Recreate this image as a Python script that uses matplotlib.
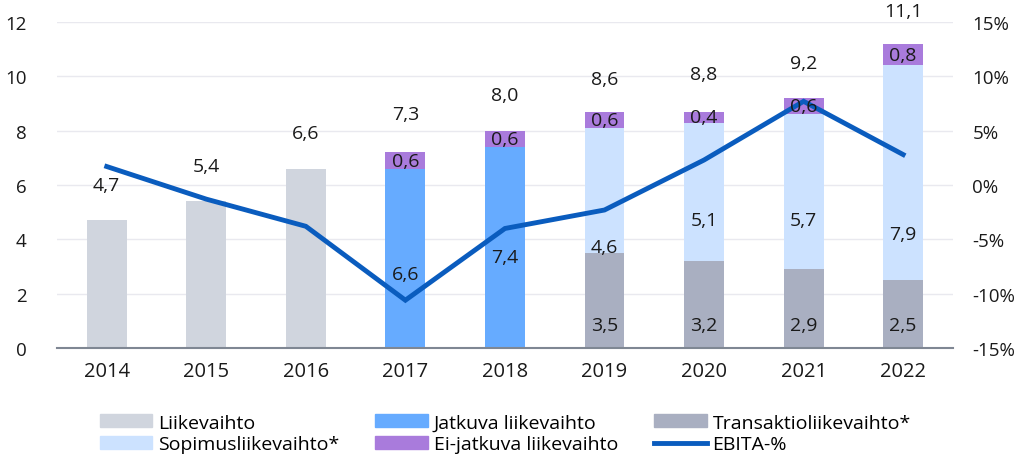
import numpy as np
import matplotlib.pyplot as plt
from matplotlib.patches import Patch
from matplotlib.lines import Line2D

plt.rcParams['font.family'] = ['Open Sans', 'DejaVu Sans']

years = ['2014', '2015', '2016', '2017', '2018', '2019', '2020', '2021', '2022']
liikevaihto = [4.7, 5.4, 6.6, 0, 0, 0, 0, 0, 0]
jatkuva = [0, 0, 0, 6.6, 7.4, 0, 0, 0, 0]
transaktio = [0, 0, 0, 0, 0, 3.5, 3.2, 2.9, 2.5]
sopimus = [0, 0, 0, 0, 0, 4.6, 5.1, 5.7, 7.9]
ei_jatkuva = [0, 0, 0, 0.6, 0.6, 0.6, 0.4, 0.6, 0.8]
totals = [4.7, 5.4, 6.6, 7.3, 8.0, 8.6, 8.8, 9.2, 11.1]
ebita = [1.7, -1.3, -3.8, -10.6, -4.0, -2.3, 2.3, 7.7, 2.8]

c_liik = '#D0D5DE'
c_jatk = '#66ABFF'
c_trans = '#A9AFC1'
c_sop = '#CCE2FF'
c_ei = '#A97BDC'
c_line = '#0A5CBE'

def fmt(v):
    return f'{v:.1f}'.replace('.', ',')

x = np.arange(len(years))
w = 0.4
fig = plt.figure(figsize=(10.17, 4.56), dpi=100)
ax = fig.add_axes([0.056, 0.2346, 0.881, 0.715])

base = np.zeros(len(years))
for vals, col in [(liikevaihto, c_liik), (jatkuva, c_jatk), (transaktio, c_trans),
                  (sopimus, c_sop), (ei_jatkuva, c_ei)]:
    v = np.array(vals)
    ax.bar(x, v, w, bottom=base, color=col, zorder=2)
    base = base + v

ax.set_xlim(-0.5, 8.5)
ax.set_ylim(0, 12)
ax.set_yticks(range(0, 13, 2))
ax.set_xticks(x)
ax.set_xticklabels(years)
ax.grid(axis='y', color='#E9E9EF', lw=1, zorder=0)
for s in ['top', 'right', 'left']:
    ax.spines[s].set_visible(False)
ax.spines['bottom'].set_color('#7F8793')
ax.spines['bottom'].set_linewidth(1.5)
ax.spines['bottom'].set_zorder(3)
ax.tick_params(length=0, labelsize=13.5, colors='#1a1a1a')
ax.tick_params(axis='x', pad=9, labelsize=14.5)
ax.tick_params(axis='y', pad=22)

ax2 = ax.twinx()
ax2.plot(x, ebita, color=c_line, lw=3.5, zorder=4, solid_joinstyle='miter')
ax2.set_ylim(-15, 15)
ax2.set_yticks(range(-15, 16, 5))
ax2.set_yticklabels([f'{t}%' for t in range(-15, 16, 5)])
ax2.tick_params(length=0, labelsize=13.5, pad=14, colors='#1a1a1a')
for s in ax2.spines.values():
    s.set_visible(False)

tr = ax.transData
kw = dict(ha='center', va='center', fontsize=14, color='#1a1a1a', zorder=6)
jatk_y = [None, None, None, 2.72, 3.35, None, None, None, None]
sop_y = [None, None, None, None, None, 3.72, 4.71, 4.71, 4.2]
for i in range(len(years)):
    ax2.text(x[i], totals[i] + 1.3, fmt(totals[i]), transform=tr, **kw)
    if jatkuva[i]:
        ax2.text(x[i], jatk_y[i], fmt(jatkuva[i]), transform=tr, **kw)
    if transaktio[i]:
        ax2.text(x[i], 0.85, fmt(transaktio[i]), transform=tr, **kw)
    if sopimus[i]:
        ax2.text(x[i], sop_y[i], fmt(sopimus[i]), transform=tr, **kw)
    if ei_jatkuva[i]:
        b = liikevaihto[i] + jatkuva[i] + transaktio[i] + sopimus[i]
        ax2.text(x[i], b + ei_jatkuva[i] / 2, fmt(ei_jatkuva[i]), transform=tr, **kw)

handles = [Patch(color=c_liik), Patch(color=c_sop), Patch(color=c_jatk),
           Patch(color=c_ei), Patch(color=c_trans), Line2D([], [], color=c_line, lw=3.5)]
labels = ['Liikevaihto', 'Sopimusliikevaihto*', 'Jatkuva liikevaihto',
          'Ei-jatkuva liikevaihto', 'Transaktioliikevaihto*', 'EBITA-%']
fig.legend(handles, labels, ncol=3, loc='lower left', bbox_to_anchor=(0.081, -0.035),
           frameon=False, fontsize=14, handlelength=2.7, handleheight=0.65,
           columnspacing=1.85, labelspacing=0.2, handletextpad=0.3)

fig.savefig('out.png', dpi=100)
